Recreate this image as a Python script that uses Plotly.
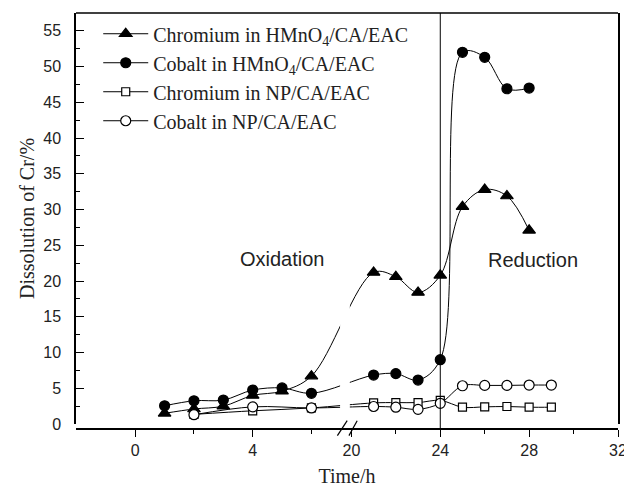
import plotly.graph_objects as go

# ---------------- data ----------------
time_hmno4 = [1, 2, 3, 4, 5, 6, 21, 22, 23, 24, 25, 26, 27, 28]
cr_hmno4 = [1.5, 2.1, 2.5, 4.0, 4.6, 6.7, 21.2, 20.6, 18.4, 20.8, 30.4, 32.8, 31.9, 27.1]
co_hmno4 = [2.55, 3.25, 3.35, 4.75, 5.05, 4.3, 6.85, 7.05, 6.15, 9.0, 52.0, 51.3, 46.9, 47.0]

time_np = [2, 4, 6, 21, 22, 23, 24, 25, 26, 27, 28, 29]
cr_np = [1.35, 1.85, 2.25, 2.95, 3.0, 3.0, 3.3, 2.35, 2.4, 2.45, 2.35, 2.35]
co_np = [1.3, 2.4, 2.25, 2.45, 2.35, 2.05, 2.9, 5.35, 5.4, 5.4, 5.45, 5.45]

major_ticks = [0, 4, 20, 24, 28, 32]
minor_ticks = [2, 6, 22, 26, 30]

names = ["Chromium in HMnO<sub>4</sub>/CA/EAC",
         "Cobalt in HMnO<sub>4</sub>/CA/EAC",
         "Chromium in NP/CA/EAC",
         "Cobalt in NP/CA/EAC"]

# ---------------- broken time axis ----------------
BREAK_LO = 7.24      # last hour shown in the left segment
BREAK_HI = 19.84     # first hour shown in the right segment
LEFT_SCALE = 1.3218  # left segment is stretched relative to the right one
X_MIN, X_MAX = -2.017, 32


def to_axis(t):
    if t <= BREAK_LO:
        return BREAK_HI - (BREAK_LO - t) * LEFT_SCALE
    return t


def axis_list(ts):
    return [to_axis(t) for t in ts]


SERIF = "Liberation Serif, Times New Roman, serif"
SANS = "Liberation Sans, Arial, sans-serif"

fig = go.Figure()

series = [
    (time_hmno4, cr_hmno4, "triangle-up", "black", 11),
    (time_hmno4, co_hmno4, "circle", "black", 10),
    (time_np, cr_np, "square", "white", 8),
    (time_np, co_np, "circle", "white", 10),
]
for (t, v, sym, fill, size), name in zip(series, names):
    fig.add_trace(go.Scatter(
        x=axis_list(t), y=v, name=name, mode="lines+markers",
        line=dict(color="black", width=1, shape="spline", smoothing=1.0),
        marker=dict(symbol=sym, size=size, color=fill,
                    line=dict(color="black", width=1.2)),
    ))

shapes = [
    # vertical separator at 24 h
    dict(type="line", xref="x", yref="paper", x0=24, x1=24, y0=0, y1=1,
         line=dict(color="black", width=1)),
    # top frame line
    dict(type="line", xref="paper", yref="paper", x0=0, x1=1, y0=1, y1=1,
         line=dict(color="black", width=1.5)),
    # gap in the curves at the axis break
    dict(type="rect", xref="x", yref="y", x0=19.49, x1=19.93, y0=0.6, y1=57,
         fillcolor="white", line=dict(width=0), layer="above"),
    # break marks "//"
    dict(type="line", xref="x", yref="paper", x0=19.37, x1=19.81, y0=-0.016, y1=0.02,
         line=dict(color="black", width=1.2)),
    dict(type="line", xref="x", yref="paper", x0=19.89, x1=20.26, y0=-0.016, y1=0.02,
         line=dict(color="black", width=1.2)),
]

annotations = [
    dict(text="Oxidation", x=16.90, y=23.15, xref="x", yref="y", showarrow=False,
         font=dict(family=SANS, size=20, color="#222")),
    dict(text="Reduction", x=28.16, y=23.0, xref="x", yref="y", showarrow=False,
         font=dict(family=SANS, size=20, color="#222")),
]

# the page body has an 8px default margin, so the figure is 8px smaller
fig.update_layout(
    width=624, height=480,
    margin=dict(l=68, r=10, t=5, b=58),
    plot_bgcolor="white", paper_bgcolor="white",
    showlegend=True,
    legend=dict(x=0.041, y=0.997, xanchor="left", yanchor="top",
                bgcolor="rgba(0,0,0,0)", font=dict(family=SERIF, size=20, color="#222"),
                itemwidth=45, tracegroupgap=0),
    shapes=shapes,
    annotations=annotations,
    xaxis=dict(
        range=[to_axis(X_MIN), X_MAX], anchor="free", position=0,
        showline=True, linecolor="black", linewidth=1.5,
        tickmode="array", tickvals=axis_list(major_ticks),
        ticktext=[str(v) for v in major_ticks],
        ticks="outside", ticklen=7, tickwidth=1.2, tickcolor="black",
        minor=dict(tickmode="array", tickvals=axis_list(minor_ticks),
                   ticks="outside", ticklen=4, tickwidth=1, tickcolor="black"),
        tickfont=dict(family=SANS, size=16, color="#222"),
        showgrid=False, zeroline=False,
        title=dict(text="Time/h", font=dict(family=SERIF, size=20, color="#222"),
                   standoff=10),
    ),
    yaxis=dict(
        domain=[5 / 417, 1], range=[0, 57.5],
        showline=True, mirror=True, linecolor="black", linewidth=1.5,
        tickmode="linear", tick0=0, dtick=5,
        ticks="inside", ticklen=8, tickwidth=1.2, tickcolor="black",
        minor=dict(dtick=2.5, ticks="inside", ticklen=4, tickwidth=1, tickcolor="black"),
        tickfont=dict(family=SANS, size=16, color="#222"),
        ticklabelstandoff=10,
        showgrid=False, zeroline=False,
        title=dict(text="Dissolution of Cr/%", font=dict(family=SERIF, size=20, color="#222"),
                   standoff=3),
    ),
)

fig.write_html("out.html")
